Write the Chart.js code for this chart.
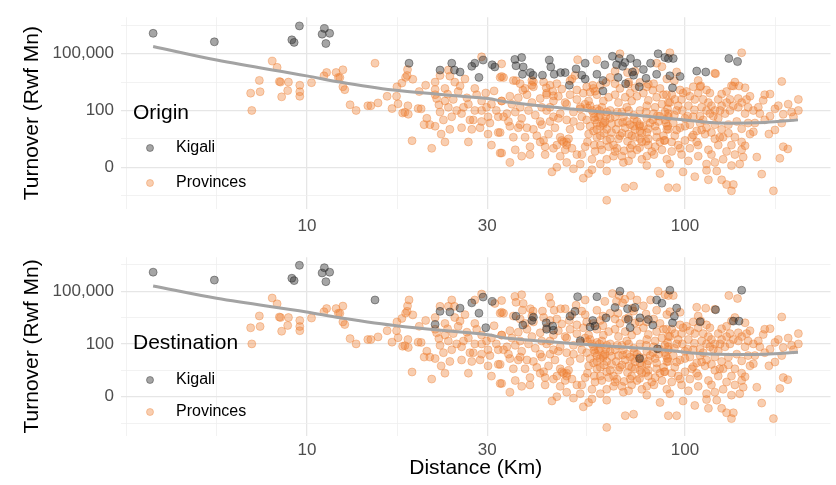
<!DOCTYPE html>
<html>
<head>
<meta charset="utf-8">
<script src="https://cdn.jsdelivr.net/npm/chart.js@4.4.1/dist/chart.umd.min.js"></script>
<style>
  body { margin: 0; background: #fff; }
  #wrap { position: relative; width: 836px; height: 485px; }
  canvas { position: absolute; left: 0; }
</style>
</head>
<body>
<div id="wrap">
  <canvas id="origin-chart" width="836" height="240" style="top:0"></canvas>
  <canvas id="dest-chart" width="836" height="245" style="top:240px"></canvas>
</div>
<script>
// Points are [log10(distance km), turnover level]; the turnover level is the
// plot's compressed scale where 0 -> "0", 1 -> "100", 2 -> "100,000".
const distanceBreaks = [10, 30, 100];
const turnoverBreaks = [0, 1, 2];
const turnoverLabels = ['0', '100', '100,000'];
const groupLabels = ['Kigali', 'Provinces'];

// trips that start and end in Kigali
const kigaliBoth = [
  [0.593,2.36],[0.755,2.21],[0.98,2.49],[0.96,2.245],[0.966,2.2],[1.046,2.445],[1.04,2.345],
  [1.06,2.36],[1.05,2.18],[1.405,1.678],[1.436,1.778],[1.466,1.888],[1.455,1.583],[1.49,1.805],
  [1.967,1.4]
];

// origin Kigali, destination in the provinces
const kigaliOriginOnly = [
  [1.27,1.833],[1.352,1.712],[1.383,1.833],[1.39,1.712],[1.444,1.833],[1.497,1.767],
  [1.55,1.9],[1.568,1.933],[1.553,1.788],[1.572,1.767],[1.57,1.638],[1.591,1.667],[1.598,1.622],
  [1.623,1.622],[1.641,1.888],[1.645,1.767],[1.654,1.638],[1.671,1.667],[1.683,1.667],[1.694,1.445],
  [1.712,1.733],[1.727,1.622],[1.736,1.833],[1.736,1.555],[1.767,1.638],[1.783,1.528],[1.783,1.345],
  [1.788,1.805],[1.808,1.955],[1.819,1.805],[1.826,1.917],[1.823,1.583],[1.835,1.778],[1.841,1.845],
  [1.843,1.472],[1.856,1.917],[1.861,1.678],[1.864,1.622],[1.873,1.833],[1.879,1.417],[1.89,1.722],
  [1.897,1.567],[1.909,1.833],[1.925,1.638],[1.929,2.0],[1.947,1.933],
  [1.956,1.917],[1.969,1.917],[1.96,1.611],[1.987,1.6],[2.031,1.695],[2.055,1.678],[2.116,1.917],
  [2.139,1.861]
];

// origin in the provinces, destination Kigali
const kigaliDestOnly = [
  [1.18,1.833],[1.339,1.37],[1.352,1.617],[1.378,1.605],[1.473,1.308],
  [1.553,1.525],[1.571,1.358],[1.599,1.506],[1.595,1.444],[1.633,1.401],[1.634,1.278],[1.65,1.339],
  [1.652,1.259],[1.716,1.895],[1.709,1.617],[1.696,1.525],[1.723,1.062],[1.756,1.444],[1.762,1.339],
  [1.749,1.321],[1.767,1.895],[1.791,1.494],[1.815,1.691],[1.828,2.0],[1.848,1.667],[1.855,1.309],
  [1.85,1.463],[1.868,1.691],[1.881,1.494],[1.903,1.463],[1.915,1.358],[1.925,1.833],[1.939,1.772],
  [1.88,0.722],[1.927,0.907],
  [1.96,2.018],[1.978,1.679],[1.972,1.525],[2.04,1.42],[2.081,1.648],[2.128,1.432],[2.143,1.432],
  [2.15,2.018]
];

// trips between provinces
const provinces = [
  [0.908,1.87],[0.921,1.76],[0.874,1.53],[0.851,1.305],[0.876,1.33],[0.854,1.0],[0.927,1.51],
  [0.93,1.5],[0.951,1.5],[0.949,1.35],[0.933,1.24],[0.981,1.445],[0.981,1.33],[0.981,1.25],
  [1.012,1.49],[1.045,1.61],[1.052,1.67],[1.077,1.67],[1.087,1.58],
  [1.095,1.717],[1.095,1.417],[1.10,1.367],[1.114,1.10],[1.13,1.0],[1.161,1.083],[1.169,1.083],
  [1.188,1.133],[1.212,1.25],[1.225,1.033],[1.238,1.417],[1.241,1.117],[1.251,1.483],[1.259,0.967],
  [1.265,1.617],[1.267,1.083],[1.278,0.467],[1.28,1.55],[1.294,1.033],[1.083,1.583],[1.237,1.25],
  [1.261,1.583],[1.266,1.72],[1.253,0.955],[1.268,0.933],[1.297,1.333],
  [1.302,1.028],[1.314,1.445],[1.317,0.862],[1.31,0.75],[1.325,0.75],[1.33,0.333],[1.339,1.5],
  [1.343,1.21],[1.349,1.1],[1.352,0.972],[1.355,0.583],[1.361,0.833],[1.365,1.388],[1.372,1.288],
  [1.374,1.712],[1.374,1.055],[1.378,0.667],[1.387,1.195],[1.391,1.5],[1.396,1.0],[1.4,1.333],
  [1.405,1.433],[1.409,0.695],[1.414,1.055],[1.418,1.555],[1.423,1.222],[1.431,0.833],[1.44,0.833],
  [1.444,1.388],[1.449,1.278],[1.458,0.695],[1.462,1.945],[1.462,1.0],[1.475,1.055],[1.479,0.888],
  [1.479,0.583],[1.484,0.778],[1.495,1.345],[1.501,1.0],[1.506,0.612],[1.511,1.583],[1.511,0.25],
  [1.515,1.167],
  [1.339,1.278],[1.365,1.167],[1.383,0.889],[1.409,0.945],[1.427,1.111],[1.444,1.0],[1.462,1.167],
  [1.488,1.111],[1.506,0.889],[1.436,0.667],[1.462,0.806],[1.427,0.445],[1.488,0.389],[1.365,0.445],
  [1.339,0.722],
  [1.515,1.822],[1.515,1.6],
  [1.52,1.58],[1.546,1.528],[1.564,1.472],[1.577,1.389],[1.595,1.528],[1.599,1.417],[1.626,1.5],
  [1.643,1.445],[1.661,1.472],[1.674,1.378],[1.701,1.556],[1.714,1.361],[1.74,1.417],[1.758,1.389],
  [1.776,1.445],[1.802,1.583],[1.815,1.472],[1.828,1.389],[1.851,1.5],[1.868,1.4],[1.899,1.417],
  [1.917,1.472],[1.934,1.389],[1.952,1.556],
  [1.515,1.167],[1.537,1.25],[1.559,1.222],[1.582,1.278],[1.595,1.139],[1.617,1.211],[1.634,1.306],
  [1.652,1.167],[1.665,1.25],[1.683,1.139],[1.696,1.278],[1.714,1.194],[1.731,1.306],[1.745,1.167],
  [1.767,1.278],[1.784,1.167],[1.798,1.233],[1.815,1.278],[1.824,1.139],[1.842,1.233],[1.859,1.167],
  [1.873,1.25],[1.89,1.306],[1.903,1.178],[1.925,1.233],[1.943,1.278],[1.956,1.139],
  [1.52,0.889],[1.533,0.806],[1.551,0.972],[1.568,0.861],[1.586,1.0],[1.604,0.917],[1.617,0.806],
  [1.634,1.0],[1.652,0.889],[1.67,0.945],[1.687,0.833],[1.705,0.972],[1.727,0.889],[1.754,1.0],
  [1.762,0.833],[1.776,0.917],[1.789,0.806],[1.802,1.0],[1.815,0.889],[1.833,0.972],[1.846,0.806],
  [1.864,0.917],[1.881,1.0],[1.899,0.861],[1.917,0.945],[1.93,0.806],[1.947,0.972],
  [1.511,0.611],[1.537,0.722],[1.559,0.695],[1.577,0.528],[1.599,0.667],[1.621,0.75],[1.639,0.583],
  [1.656,0.695],[1.674,0.472],[1.687,0.445],[1.696,0.667],[1.723,0.722],[1.745,0.583],[1.767,0.528],
  [1.784,0.75],[1.806,0.611],[1.824,0.5],[1.842,0.695],[1.859,0.556],[1.881,0.639],[1.903,0.5],
  [1.921,0.722],[1.943,0.556],
  [1.515,0.25],[1.551,0.306],[1.568,0.195],[1.59,0.361],[1.617,0.445],[1.63,0.222],[1.652,0.333],
  [1.67,0.195],[1.687,0.389],[1.714,0.222],[1.736,0.361],[1.762,0.278],[1.776,0.389],[1.793,0.139],
  [1.82,0.333],[1.833,0.195],[1.851,0.111],[1.873,0.306],[1.899,0.195],[1.921,0.361],[1.952,0.139],
  [1.648,-0.083],[1.661,0.0],[1.705,-0.028],[1.731,-0.194],[1.745,-0.111],[1.754,-0.044],
  [1.793,-0.067],[1.842,-0.361],[1.864,-0.333],[1.934,-0.111],[1.793,-0.583],
  [1.767,0.778],[1.776,0.722],[1.793,0.667],[1.758,0.945],[1.74,0.833],[1.846,1.056],[1.864,0.722],
  [1.881,0.5],[1.899,0.611],[1.855,0.333],[1.564,1.056],[1.643,1.056],
  [1.749,1.084],[1.767,1.028],[1.78,1.056],[1.793,0.972],[1.771,0.889],[1.784,0.778],[1.802,0.861],
  [1.824,0.778],[1.837,0.889],[1.855,0.75],[1.873,0.806],[1.89,0.722],[1.908,0.778],[1.925,0.639],
  [1.851,0.584],[1.868,0.528],[1.886,0.445],[1.903,0.389],[1.758,0.639],[1.776,0.556],[1.793,0.472],
  [1.811,0.389],[1.828,0.556],[1.67,0.528],[1.679,0.445],[1.692,0.5],[1.661,0.389],[1.683,0.306],
  [1.701,0.333],[1.626,0.472],[1.63,0.361],[1.564,0.75],[1.582,0.695],[1.608,0.556],[1.546,0.528],
  [1.529,0.945],[1.643,0.806],[1.665,0.861],[1.705,0.806],[1.723,1.028],[1.736,1.111],[1.687,1.111],
  [1.621,1.056],[1.542,1.111],[1.899,1.084],[1.921,1.056],[1.939,1.111],[1.956,0.889],[1.952,0.667],
  [1.934,0.445],[1.912,0.278],[1.886,0.139],[1.859,0.222],[1.837,0.084],[1.811,0.195],[1.776,0.056],
  [1.754,0.139],[1.727,0.222],[1.59,0.222],[1.537,0.084],[1.687,0.084],[1.723,0.056],[1.899,0.028],
  [1.742,1.045],[1.76,0.878],[1.774,1.0],[1.791,0.9],[1.806,0.767],[1.821,0.972],[1.835,0.789],
  [1.851,1.0],[1.866,0.845],[1.88,0.75],[1.897,0.972],[1.915,0.834],[1.933,0.9],[1.95,0.778],
  [1.749,0.722],[1.767,0.667],[1.786,0.6],[1.802,0.5],[1.818,0.667],[1.833,0.6],[1.848,0.456],
  [1.868,0.667],[1.886,0.6],[1.903,0.678],[1.925,0.528],[1.945,0.472],[1.742,0.445],[1.76,0.389],
  [1.78,0.306],[1.798,0.361],[1.815,0.278],[1.839,0.289],[1.859,0.389],[1.88,0.345],[1.897,0.456],
  [1.918,0.222],[1.939,0.306],
  [2.079,1.656],[2.256,1.511],[2.035,1.528],[2.042,1.434],[2.132,1.5],[2.159,1.4],[2.123,1.434],
  [2.066,1.306],[2.097,1.289],[2.119,1.195],[2.141,1.211],[2.163,1.195],[2.194,1.056],[2.207,1.178],
  [2.225,1.289],[2.238,1.028],[2.3,1.195],[2.3,1.0],[2.282,0.972],[2.26,0.933],[2.225,0.9],
  [2.256,0.778],[2.181,0.623],[2.238,0.656],[2.222,0.584],[2.159,0.378],[2.154,0.178],[2.19,0.178],
  [2.26,0.361],[2.272,0.322],[2.251,0.156],[2.203,-0.122],[2.234,-0.417],
  [1.951,1.278],[1.973,1.195],[1.995,1.306],[2.009,1.084],[2.026,1.195],[2.044,1.056],[2.062,1.139],
  [2.079,1.0],[2.097,1.084],[2.119,1.0],[2.141,1.056],[2.159,0.945],[1.956,0.945],[1.978,1.0],
  [2.0,0.861],[2.022,0.889],[2.04,0.778],[2.057,0.695],[2.079,0.75],[2.097,0.667],[2.115,0.75],
  [2.137,0.806],[1.956,0.667],[1.973,0.556],[2.0,0.472],[2.018,0.528],[2.035,0.389],[2.053,0.584],
  [2.079,0.5],[2.101,0.528],[2.123,0.389],[1.965,0.278],[1.991,0.222],[2.009,0.111],[2.035,0.195],
  [2.057,0.056],[2.079,0.084],[2.101,0.139],[2.123,0.028],[2.145,0.056],[1.995,-0.083],[2.026,-0.167],
  [2.057,-0.056],[2.084,-0.067],[2.062,-0.222],[2.097,-0.222],[2.11,-0.306],[2.128,-0.306],
  [2.123,-0.417],[1.956,-0.361],[1.978,-0.361],[1.96,0.056],
  [1.96,1.139],[1.982,1.084],[1.991,1.195],[2.013,1.25],[2.035,1.306],[2.048,1.195],[2.07,1.084],
  [2.088,1.195],[2.11,1.139],[2.128,1.084],[2.15,1.139],[2.167,1.056],[1.947,0.834],[1.969,0.778],
  [1.987,0.695],[2.013,0.75],[2.031,0.639],[2.048,0.834],[2.066,0.945],[2.088,0.861],[2.106,0.945],
  [1.947,0.472],[1.982,0.389],[2.013,0.333],[2.062,0.306],[2.088,0.389],[2.11,0.278],[2.132,0.222],
  [2.15,0.306],[2.172,0.584],[2.185,0.778],[2.198,0.945],[2.211,0.834],
  [1.954,1.028],[1.972,0.917],[1.993,1.0],[2.007,0.9],[2.025,1.011],[2.04,0.9],[2.057,1.0],
  [2.075,0.9],[2.093,1.0],[1.954,0.723],[1.978,0.656],[2.0,0.723],[2.022,0.567],[2.044,0.656],
  [2.07,0.611],[2.092,0.528],[2.115,0.6],[2.132,0.528],[2.15,0.678],[2.167,0.778],[2.181,1.0],
  [1.965,0.445],[1.987,0.334],[2.031,0.445],[2.07,0.223],[2.15,0.445],[1.965,1.278],[1.987,1.361],
  [2.004,1.334],[2.022,1.417],[2.057,1.361],[2.11,1.334],[2.172,1.25],[2.211,1.278],[2.247,1.084],
  [2.273,1.111],[2.287,0.889]
];

// smoothed trend, one curve per panel
const trendDistance = [0.593, 0.761, 0.999, 1.087, 1.241, 1.479, 1.524, 1.74, 1.96, 2.018, 2.087, 2.212, 2.299];
const trendOrigin = [2.128, 1.889, 1.61, 1.5, 1.35, 1.21, 1.155, 1.0, 0.86, 0.817, 0.778, 0.789, 0.834];
const trendDest = [2.099, 1.864, 1.605, 1.494, 1.339, 1.173, 1.111, 0.988, 0.876, 0.827, 0.802, 0.802, 0.84];

const FONT = '"Liberation Sans", Arial, sans-serif';
const KIGALI_FILL = 'rgba(40,40,40,0.42)';
const PROV_FILL = 'rgba(237,125,49,0.38)';
const GRID_MAJOR = '#e6e6e6';
const GRID_MINOR = '#efefef';

Chart.defaults.font.family = FONT;

const toPoints = arr => arr.map(p => ({ x: p[0], y: p[1] }));
const near = (a, b) => Math.abs(a - b) < 1e-6;

// major breaks plus ggplot-style minor breaks (midpoints, extended one step)
function breaksFor(majors, min, max) {
  const step = majors[1] - majors[0];
  const ext = [majors[0] - step, ...majors, majors[majors.length - 1] + step];
  const minors = [ext[0], ext[ext.length - 1]];
  for (let i = 0; i < ext.length - 1; i++) minors.push((ext[i] + ext[i + 1]) / 2);
  return majors.concat(minors).filter(v => v >= min && v <= max).sort((a, b) => a - b);
}

const xMajors = distanceBreaks.map(d => Math.log10(d));
const X_MIN = 0.508, X_MAX = 2.385;
const Y_MIN = -0.737, Y_MAX = 2.644;

const legendPlugin = {
  id: 'groupLegend',
  afterDraw(chart, args, opts) {
    const ctx = chart.ctx;
    ctx.save();
    ctx.textBaseline = 'middle';
    ctx.textAlign = 'left';
    ctx.fillStyle = '#000';
    ctx.font = '21px ' + FONT;
    ctx.fillText(opts.title, 133, opts.titleY);
    ctx.font = '16px ' + FONT;
    const fills = [KIGALI_FILL, PROV_FILL];
    opts.rowsY.forEach((y, i) => {
      ctx.beginPath();
      ctx.arc(150, y, 3.5, 0, Math.PI * 2);
      ctx.fillStyle = fills[i];
      ctx.fill();
      ctx.strokeStyle = fills[i];
      ctx.lineWidth = 1;
      ctx.stroke();
      ctx.fillStyle = '#000';
      ctx.fillText(groupLabels[i], 176, y);
    });
    ctx.restore();
  }
};

function makePanel(id, cfg) {
  const ctx = document.getElementById(id).getContext('2d');
  return new Chart(ctx, {
    type: 'scatter',
    data: {
      datasets: [
        {
          type: 'line',
          data: trendDistance.map((x, i) => ({ x: x, y: cfg.trend[i] })),
          borderColor: '#a3a3a3',
          borderWidth: 3,
          pointRadius: 0,
          fill: false,
          tension: 0.35
        },
        {
          label: groupLabels[0],
          data: toPoints(cfg.kigali),
          backgroundColor: KIGALI_FILL,
          borderColor: KIGALI_FILL,
          borderWidth: 1,
          pointRadius: 4
        },
        {
          label: groupLabels[1],
          data: toPoints(cfg.prov),
          backgroundColor: PROV_FILL,
          borderColor: PROV_FILL,
          borderWidth: 1,
          pointRadius: 4
        }
      ]
    },
    options: {
      responsive: false,
      animation: false,
      events: [],
      layout: { padding: { left: 0, right: 5.5, top: cfg.padTop, bottom: 0 } },
      plugins: {
        legend: { display: false },
        tooltip: { enabled: false },
        groupLegend: cfg.legend
      },
      scales: {
        x: {
          type: 'linear',
          min: X_MIN,
          max: X_MAX,
          afterBuildTicks: s => { s.ticks = breaksFor(xMajors, X_MIN, X_MAX).map(v => ({ value: v })); },
          afterFit: s => { s.height = cfg.xHeight; },
          border: { display: false },
          grid: {
            drawTicks: false,
            color: c => xMajors.some(m => near(m, c.tick.value)) ? GRID_MAJOR : GRID_MINOR,
            lineWidth: c => xMajors.some(m => near(m, c.tick.value)) ? 1.3 : 0.8
          },
          ticks: {
            autoSkip: false,
            maxRotation: 0,
            padding: cfg.xPad,
            color: '#4d4d4d',
            font: { size: 17 },
            callback: v => {
              const i = xMajors.findIndex(m => near(m, v));
              return i >= 0 ? String(distanceBreaks[i]) : '';
            }
          },
          title: {
            display: cfg.xTitle,
            text: 'Distance (Km)',
            color: '#000',
            font: { size: 21 },
            padding: { top: 0, bottom: 4.4 }
          }
        },
        y: {
          type: 'linear',
          min: Y_MIN,
          max: Y_MAX,
          afterBuildTicks: s => { s.ticks = breaksFor(turnoverBreaks, Y_MIN, Y_MAX).map(v => ({ value: v })); },
          afterFit: s => { s.width = 121; },
          border: { display: false },
          grid: {
            drawTicks: false,
            color: c => turnoverBreaks.some(m => near(m, c.tick.value)) ? GRID_MAJOR : GRID_MINOR,
            lineWidth: c => turnoverBreaks.some(m => near(m, c.tick.value)) ? 1.3 : 0.8
          },
          ticks: {
            autoSkip: false,
            padding: 7,
            color: '#4d4d4d',
            font: { size: 17 },
            callback: v => {
              const i = turnoverBreaks.findIndex(m => near(m, v));
              return i >= 0 ? turnoverLabels[i] : '';
            }
          },
          title: {
            display: true,
            text: 'Turnover (Rwf Mn)',
            color: '#000',
            font: { size: 21 },
            padding: { top: 20, bottom: 0 }
          }
        }
      }
    },
    plugins: [legendPlugin]
  });
}

// top panel coloured by where the trip starts
makePanel('origin-chart', {
  kigali: kigaliBoth.concat(kigaliOriginOnly),
  prov: provinces.concat(kigaliDestOnly),
  trend: trendOrigin,
  padTop: 6,
  xHeight: 31,
  xPad: 7,
  xTitle: false,
  legend: { title: 'Origin', titleY: 113, rowsY: [148, 183] }
});

// bottom panel coloured by where the trip ends
makePanel('dest-chart', {
  kigali: kigaliBoth.concat(kigaliDestOnly),
  prov: provinces.concat(kigaliOriginOnly),
  trend: trendDest,
  padTop: 12.9,
  xHeight: 49.5,
  xPad: 5,
  xTitle: true,
  legend: { title: 'Destination', titleY: 103, rowsY: [140, 172] }
});
</script>
</body>
</html>
